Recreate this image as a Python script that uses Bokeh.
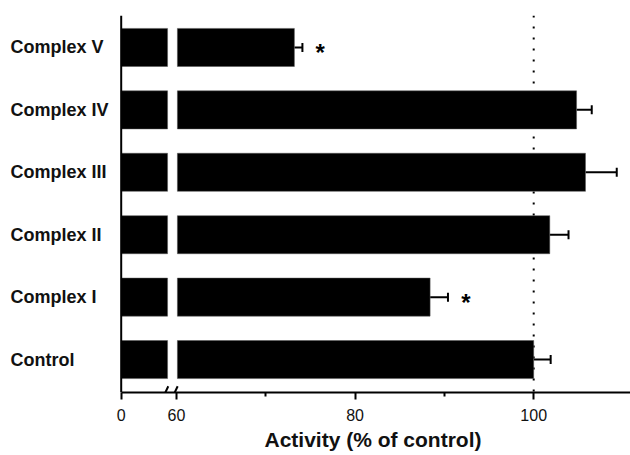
from bokeh.plotting import figure
from bokeh.models import (Range1d, FixedTicker, Span, ColumnDataSource,
                          Whisker, TeeHead, Arrow, Title)
from bokeh.core.properties import value
from bokeh.embed import file_html
from bokeh.resources import INLINE

# ---- data ----
categories = ["Control", "Complex I", "Complex II", "Complex III", "Complex IV", "Complex V"]
activity = [100.0, 88.4, 101.8, 105.8, 104.8, 73.2]
sem = [1.9, 2.0, 2.1, 3.5, 1.7, 0.9]
significant = [False, True, False, False, False, True]
tick_values = [0, 60, 80, 100]
minor_tick_values = [70, 90]
x_title = "Activity (% of control)"

# ---- broken axis geometry (0 is drawn just left of the 60 tick) ----
PX_PER_UNIT = 8.93
LEFT_PX = 120.7        # room for the category labels
ZERO_POS = 60 - 55.3 / PX_PER_UNIT
BREAK_LO = 59.0
BREAK_HI = 60.1
X_START = ZERO_POS - LEFT_PX / PX_PER_UNIT
X_END = ZERO_POS + (630 - LEFT_PX) / PX_PER_UNIT

ypos = list(range(len(categories)))
src = ColumnDataSource(dict(
    y=ypos, cat=categories, val=activity,
    upper=[a + s for a, s in zip(activity, sem)],
    lab_x=[X_START + 10 / PX_PER_UNIT] * len(categories),
))
star_src = ColumnDataSource(dict(
    y=[y for y, s in zip(ypos, significant) if s],
    x=[a + s + 2.0 for a, s, sig in zip(activity, sem, significant) if sig],
    t=["*" for s in significant if s],
))

FONT = "Liberation Sans"

p = figure(width=630, height=455, output_backend="svg", toolbar_location=None,
           x_range=Range1d(X_START, X_END), y_range=Range1d(-0.528, 5.512),
           y_axis_location=None,
           min_border_left=0, min_border_right=0, min_border_top=15,
           min_border_bottom=63)
p.outline_line_color = None
p.grid.grid_line_color = None
p.background_fill_color = "white"
p.border_fill_color = "white"

# dotted reference line at 100 %
p.add_layout(Span(location=100, dimension="height", line_color="black",
                  line_width=2, line_dash="2 9", level="underlay"))

# bars (two pieces around the axis break)
p.hbar(y="y", left=ZERO_POS, right=BREAK_LO, height=0.61, source=src,
       fill_color="black", line_color="#555555", line_width=0.5)
p.hbar(y="y", left=BREAK_HI, right="val", height=0.61, source=src,
       fill_color="black", line_color="#555555", line_width=0.5)

# y axis line
p.add_layout(Span(location=ZERO_POS, dimension="height", line_color="black",
                  line_width=2))

# one-sided error bars
p.add_layout(Whisker(source=src, base="y", lower="val", upper="upper",
                     dimension="width", line_color="black", line_width=2,
                     lower_head=None,
                     upper_head=TeeHead(size=9, line_width=2, line_color="black")))

# significance stars
p.text(x="x", y="y", text="t", source=star_src, text_font=value(FONT),
       text_font_style="bold", text_font_size="24px", text_align="center",
       text_baseline="middle", y_offset=5, text_color="black")

# category labels (left aligned near the page's left edge)
p.text(x="lab_x", y="y", text="cat", source=src, text_font=value(FONT),
       text_font_style="bold", text_font_size="18px", text_align="left",
       text_baseline="middle", text_color="#111111")

# x axis
xa = p.xaxis[0]
major = [ZERO_POS] + tick_values[1:]
xa.ticker = FixedTicker(ticks=major, minor_ticks=minor_tick_values)
xa.major_label_overrides = {ZERO_POS: str(tick_values[0])}
xa.bounds = (ZERO_POS, X_END)
xa.axis_line_width = 2
xa.major_tick_line_width = 2
xa.minor_tick_line_width = 2
xa.major_tick_in = 0
xa.major_tick_out = 7
xa.minor_tick_in = 0
xa.minor_tick_out = 4
xa.major_label_text_font = FONT
xa.major_label_text_font_size = "16px"
xa.major_label_text_color = "#111111"
xa.major_label_standoff = 9

# x axis title, centred under the data part of the axis
p.add_layout(Title(text=x_title, align="left", offset=264, standoff=5,
                   text_font=FONT, text_font_style="bold",
                   text_font_size="21px", text_color="#111111"), "below")

# axis-break slashes
for cx in (58.75, 59.8):
    p.add_layout(Arrow(end=None, x_start=cx - 0.33, y_start=-0.528 - 0.1,
                       x_end=cx + 0.33, y_end=-0.528 + 0.1,
                       line_color="black", line_width=2))

open("out.html", "w").write(file_html(p, INLINE))
